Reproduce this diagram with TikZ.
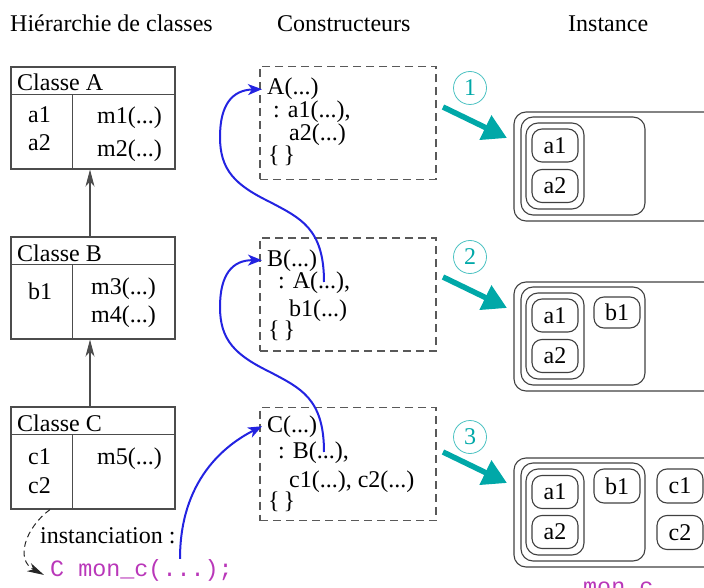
\documentclass[tikz,border=0pt]{standalone}
\usepackage{fontspec}
\setmainfont{Liberation Serif}
\setmonofont{Liberation Mono}
\usetikzlibrary{arrows,arrows.meta}
\definecolor{callblue}{RGB}{35,35,225}
\definecolor{stageteal}{RGB}{0,168,168}
\definecolor{codepurple}{RGB}{185,55,185}

\begin{document}
\begin{tikzpicture}[x=1pt,y=-1pt,>={Stealth[length=17pt,width=9pt,inset=5pt]},
    font=\fontsize{24}{28}\selectfont,
    label text/.style={anchor=base west,inner sep=0pt},
    code/.style={font=\fontsize{23.4}{27}\selectfont\ttfamily,text=codepurple},
    class box/.style={draw=black!70,line width=1.1pt,minimum width=164pt,minimum height=102pt,inner sep=0pt},
    class line/.style={draw=black!70,line width=1.1pt},
    ctor box/.style={draw=black!65,line width=1.1pt,dash pattern=on 8pt off 5pt,minimum width=176pt,minimum height=113pt,inner sep=0pt},
    call/.style={-{Stealth[length=14pt,width=11pt,inset=4pt]},callblue,line width=2pt},
    part/.style={draw=black!75,line width=1.1pt,rounded corners=12pt},
    attr/.style={draw=black!75,line width=1.1pt,rounded corners=10pt,minimum width=46pt,minimum height=33pt,inner sep=0pt},
    stage num/.style={circle,draw=stageteal!70,line width=0.8pt,text=stageteal,minimum size=33pt,inner sep=0pt},
    stage arrow/.style={-{Triangle[length=24pt,width=26pt]},stageteal,line width=5.5pt}]
\useasboundingbox (0,0) rectangle (704,588);
\clip (0,0) rectangle (704,588);

% titles
\node[label text] (t1) at (10,32) {Hiérarchie de classes};
\node[label text] (t2) at (277,32) {Constructeurs};
\node[label text] (t3) at (568,32) {Instance};

% class hierarchy
\node[class box] (A) at (93,118) {};
\draw[class line] ([yshift=-28pt]A.north west) -- ([yshift=-28pt]A.north east)
    ([xshift=62pt,yshift=-28pt]A.north west) -- ([xshift=62pt]A.south west);
\node[label text] (Aname) at (17,91) {Classe A};
\node[label text] (Aa1) at (28,123) {a1};
\node[label text] (Aa2) at (28,151) {a2};
\node[label text] (Am1) at (97,124) {m1(...)};
\node[label text] (Am2) at (97,157) {m2(...)};

\node[class box] (B) at (93,288) {};
\draw[class line] ([yshift=-28pt]B.north west) -- ([yshift=-28pt]B.north east)
    ([xshift=62pt,yshift=-28pt]B.north west) -- ([xshift=62pt]B.south west);
\node[label text] (Bname) at (17,261) {Classe B};
\node[label text] (Bb1) at (28,299) {b1};
\node[label text] (Bm3) at (91,294) {m3(...)};
\node[label text] (Bm4) at (91,322) {m4(...)};

\node[class box] (C) at (93,458) {};
\draw[class line] ([yshift=-28pt]C.north west) -- ([yshift=-28pt]C.north east)
    ([xshift=62pt,yshift=-28pt]C.north west) -- ([xshift=62pt]C.south west);
\node[label text] (Cname) at (17,431) {Classe C};
\node[label text] (Cc1) at (28,464) {c1};
\node[label text] (Cc2) at (28,493) {c2};
\node[label text] (Cm5) at (97,464) {m5(...)};

\draw[->,black!70,line width=1.1pt] ([xshift=-3pt]B.north) -- ([xshift=-3pt]A.south);
\draw[->,black!70,line width=1.1pt] ([xshift=-3pt]C.north) -- ([xshift=-3pt]B.south);

% instanciation
\node[label text] (inst) at (40,543) {instanciation :};
\node[label text,code] (decl) at (50,576) {C mon\_c(...);};
\draw[->,dash pattern=on 6pt off 4pt,black!85,line width=1pt] ([xshift=-43pt]C.south)
    .. controls (25,528) and (15,560) .. ([shift={(-6pt,-5pt)}]decl.west);

% constructors
\node[ctor box] (kA) at (348,123) {};
\node[label text] (kAhead) at (267,95) {A(...)};
\node[label text] (kAinit) at (273,118) {: a1(...),};
\node[label text] (kAinit2) at (289,141) {a2(...)};
\node[label text] (kAbody) at (268,163) {\{\,\}};

\node[ctor box] (kB) at (348,294.5) {};
\node[label text] (kBhead) at (267,266) {B(...)};
\node[label text] (kBinit) at (278,288) {: A(...),};
\node[label text] (kBinit2) at (289,316) {b1(...)};
\node[label text] (kBbody) at (268,337) {\{\,\}};

\node[ctor box] (kC) at (348,464) {};
\node[label text] (kChead) at (267,432) {C(...)};
\node[label text] (kCinit) at (278,458) {: B(...),};
\node[label text] (kCinit2) at (289,487) {c1(...), c2(...)};
\node[label text] (kCbody) at (268,508) {\{\,\}};

% calls
\draw[call] ([xshift=130pt]decl.north west)
    .. controls (180,480) and (225,445) .. ([xshift=-5pt]kChead.west);
\draw[call] ([shift={(46pt,6pt)}]kCinit.base west)
    .. controls (324,398) and (300,388) .. (270,372)
    .. controls (235,355) and (220,340) .. (220,307)
    .. controls (220,275) and (232,260) .. ([xshift=-5pt]kBhead.west);
\draw[call] ([shift={(46pt,6pt)}]kBinit.base west)
    .. controls (324,228) and (300,218) .. (270,202)
    .. controls (235,185) and (220,170) .. (220,137)
    .. controls (220,105) and (232,90) .. ([xshift=-5pt]kAhead.west);

% instance, stage 1
\node[stage num] (n1) at (470,88) {1};
\coordinate (s1from) at (443,107);
\coordinate (s1to) at (507,138);
\draw[stage arrow] (s1from) -- (s1to);
\draw[part] (514,112) rectangle (722,221);
\draw[part] (521,117) rectangle (645,215);
\draw[part] (526,123) rectangle (584,209);
\node[attr] (i1a1) at (555,145.5) {a1};
\node[attr] (i1a2) at (555,186) {a2};

% instance, stage 2
\node[stage num] (n2) at (470,257) {2};
\coordinate (s2from) at (443,277);
\coordinate (s2to) at (507,308);
\draw[stage arrow] (s2from) -- (s2to);
\draw[part] (514,282) rectangle (722,391);
\draw[part] (521,287) rectangle (645,385);
\draw[part] (526,293) rectangle (584,379);
\node[attr] (i2a1) at (555,315.5) {a1};
\node[attr] (i2a2) at (555,356) {a2};
\node[attr,minimum height=31pt] (i2b1) at (617,312.5) {b1};

% instance, stage 3
\node[stage num] (n3) at (470,437) {3};
\coordinate (s3from) at (443,452);
\coordinate (s3to) at (507,483);
\draw[stage arrow] (s3from) -- (s3to);
\draw[part] (514,458) rectangle (722,567);
\draw[part] (521,463) rectangle (645,561);
\draw[part] (526,469) rectangle (584,555);
\node[attr] (i3a1) at (555,492) {a1};
\node[attr] (i3a2) at (555,532) {a2};
\node[attr,minimum height=34pt] (i3b1) at (617,486) {b1};
\node[attr,minimum height=34pt] (i3c1) at (680,486) {c1};
\node[attr,minimum height=34pt] (i3c2) at (680,532.5) {c2};
\node[label text,code] (objname) at (583,594) {mon\_c};
\end{tikzpicture}
\end{document}
